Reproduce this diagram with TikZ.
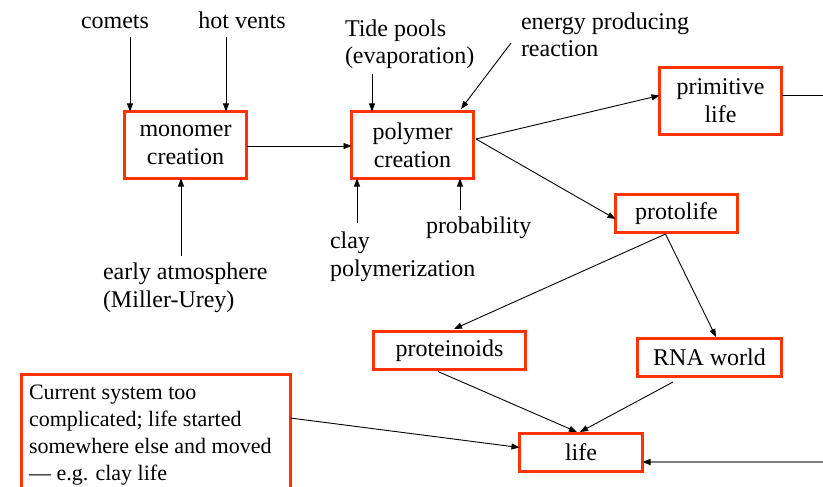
\documentclass[tikz,border=0pt]{standalone}
\usepackage{fontspec}
\setmainfont{Liberation Serif}
\usetikzlibrary{arrows.meta,calc}
\definecolor{boxred}{RGB}{255,51,0}
\definecolor{linegray}{RGB}{128,128,128}
\begin{document}
\begin{tikzpicture}[x=1pt,y=-1pt,
  every node/.style={inner sep=0pt,outer sep=0pt},
  mainfont/.style={font=\fontsize{24}{28}\selectfont},
  box/.style={mainfont,draw=boxred,line width=2.6pt,align=center},
  lbl/.style={mainfont,align=left,anchor=base west},
  clbl/.style={mainfont,anchor=base},
  arr/.style={line width=0.9pt,-{Triangle[length=8pt,width=6pt]}},
  plain/.style={line width=0.9pt}]
\useasboundingbox (0,0) rectangle (823,487);
\clip (0,0) rectangle (823,487);
% boxes
\node[box,minimum width=122pt,minimum height=67pt] (mono) at (185.5,145) {monomer\\creation};
\node[box,minimum width=122pt,minimum height=67pt] (poly) at (412.5,145) {polymer\\creation};
\node[box,minimum width=122pt,minimum height=67pt] (prim) at (720.5,101) {primitive\\life};
\node[box,minimum width=122pt,minimum height=38pt] (proto) at (676.5,213.5) {protolife};
\node[box,minimum width=152pt,minimum height=38pt] (protein) at (449.5,350.5) {proteinoids};
\node[box,minimum width=144pt,minimum height=38pt] (rna) at (709.5,357.5) {RNA world};
\node[box,minimum width=123pt,minimum height=38pt] (life) at (581,452.5) {life};
\node[draw=boxred,line width=2.6pt,minimum width=269pt,minimum height=140pt,anchor=north west] (curbox) at (21.3,374.3) {};
\node[font=\fontsize{22}{26.7}\selectfont,align=left,anchor=base west] (cur) at (29,480)
  {Current system too\\complicated; life started\\somewhere else and moved\\--- e.g. clay life};
% labels
\node[clbl] (comets) at (115,29) {comets};
\node[clbl] (hot) at (242,29) {hot vents};
\node[lbl] (tide) at (345,64) {Tide pools\\(evaporation)};
\node[lbl] (energy) at (521,57) {energy producing\\reaction};
\node[lbl] (early) at (103,307) {early atmosphere\\(Miller-Urey)};
\node[lbl] (clay) at (330,276) {clay\\polymerization};
\node[lbl] (prob) at (426,233) {probability};
% arrow tails
\coordinate (c1) at (130,37);
\coordinate (c2) at (226,37);
\coordinate (c3) at (372,74);
\coordinate (c4) at (511,43);
\coordinate (c5) at (181,256);
\coordinate (c6) at (357,223);
\coordinate (c7) at (460,210);
\coordinate (pe) at (476,139);
\coordinate (pt) at (665.5,234);
\coordinate (rightA) at (823,95);
\coordinate (rightB) at (823,462);
% connectors
\draw[arr] (c1) -- (c1 |- mono.north);
\draw[arr] (c2) -- (c2 |- mono.north);
\draw[arr] (c3) -- (c3 |- poly.north);
\draw[arr] (c4) -- (461,109);
\draw[arr] (mono.east |- 0,146) -- (poly.west |- 0,146);
\draw[arr] (c5) -- (c5 |- mono.south);
\draw[arr] (c6) -- (c6 |- poly.south);
\draw[arr] (c7) -- (c7 |- poly.south);
\draw[arr] (pe) -- (prim.west |- 0,95.5);
\draw[arr] (pe) -- (proto.west |- 0,219);
\draw[plain] (prim.east |- 0,95) -- (rightA);
\draw[arr] (pt) -- (454,329);
\draw[arr] (pt) -- (716,337);
\draw[arr] (438,371.5) -- (577,432);
\draw[arr] (673,382) -- (580,432);
\draw[arr] (curbox.east |- 0,418) -- (life.west |- 0,447.5);
\draw[line width=1.6pt,linegray,-{Triangle[length=8pt,width=6pt,black]}] (rightB) -- (life.east |- 0,462);
\end{tikzpicture}
\end{document}
